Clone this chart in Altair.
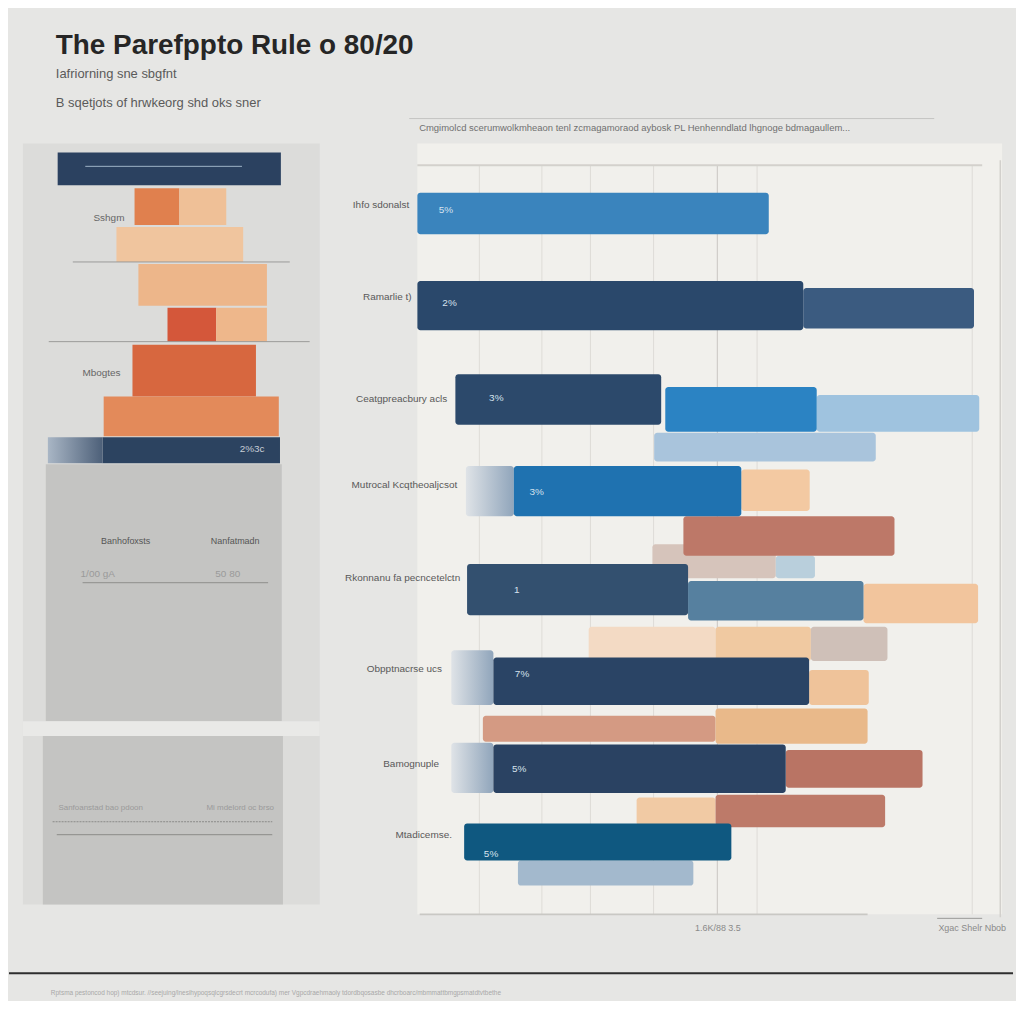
import altair as alt
import pandas as pd

# ---------------- text ----------------
TITLE = "The Parefppto Rule o 80/20"
SUBTITLE = ["Iafriorning sne sbgfnt", "B sqetjots of hrwkeorg shd oks sner"]
HEADER = "Cmgimolcd scerumwolkmheaon tenl zcmagamoraod aybosk PL Henhenndlatd lhgnoge bdmagaullem..."
FOOTER = ("Rptsma pestoncod hop) mtcdsur. //seejuing/lnesihypoqsqlcgrsdecrt mcrcodufa) mer "
          "Vgpcdraehmaoly tdordbqosasbe dhcrboarc/mbmmattbmgpsmatdtvtbethe")

# ---------------- right panel: categories ----------------
categories = ["Ihfo sdonalst", "Ramarlie t)", "Ceatgpreacbury acls", "Mutrocal Kcqtheoaljcsot",
              "Rkonnanu fa pecncetelctn", "Obpptnacrse ucs", "Bamognuple", "Mtadicemse."]
label_row = [-0.1, 0.93, 2.06, 3.02, 4.06, 5.07, 6.13, 6.92]
label_end = [-0.7, -0.3, 5.8, 7.5, 8.0, 4.9, 4.4, 6.6]
pct_text = ["5%", "2%", "3%", "3%", "1", "7%", "5%", "5%"]
pct_x = [4.9, 5.5, 13.5, 20.4, 17.0, 17.9, 17.4, 12.6]
pct_row = [-0.04, 1.0, 2.05, 3.1, 4.19, 5.12, 6.18, 7.13]

# segments in drawing order (background bars first, main bars last)
seg_start = [40.5, 40.2, 61.3, 45.5, 29.3, 51.0, 67.3, 11.2, 51.0, 37.5, 51.0, 17.2,
             0.0, 66.0, 0.0, 68.3, 42.4, 6.5, 55.4, 16.5, 76.3, 46.3, 8.5, 67.0, 13.0,
             63.0, 13.0, 8.0]
seg_end = [78.4, 61.3, 68.0, 81.6, 51.0, 67.3, 80.4, 51.0, 77.0, 51.0, 80.0, 47.2,
           60.1, 95.2, 66.0, 96.1, 68.3, 41.7, 67.1, 55.4, 95.9, 76.3, 46.3, 77.2, 67.0,
           86.4, 63.0, 53.7]
seg_top = [2.44, 3.68, 3.81, 3.37, 4.60, 4.60, 4.60, 5.59, 5.51, 6.50, 6.47, 7.20,
           -0.23, 0.83, 0.75, 2.02, 1.93, 1.79, 2.85, 2.81, 4.12, 4.09, 3.90, 5.08, 4.94,
           5.97, 5.91, 6.79]
seg_bottom = [2.76, 4.06, 4.06, 3.81, 4.98, 4.98, 4.98, 5.88, 5.90, 6.81, 6.83, 7.48,
              0.23, 1.28, 1.30, 2.43, 2.43, 2.35, 3.31, 3.37, 4.56, 4.53, 4.47, 5.47, 5.47,
              6.39, 6.45, 7.20]
seg_color = ["#a9c4dc", "#d6c4bb", "#b9cfdc", "#bd7868", "#f3dac4", "#f0c9a1", "#cfc0b8",
             "#d49a83", "#e9b98a", "#f1caa4", "#bd7a69", "#a3b9cd",
             "#3a84bd", "#3b5b80", "#2a486b", "#9fc3df", "#2b83c3", "#2c496b",
             "#f3c9a2", "#1f72b0", "#f2c59d", "#56809f", "#33506f", "#efc39a", "#2a4465",
             "#b97464", "#2a4262", "#0f5880"]

# fading caps on the left of some bars
fade_start = [8.3, 5.8, 5.8]
fade_end = [16.5, 13.0, 13.0]
fade_top = [2.81, 4.86, 5.89]
fade_bottom = [3.37, 5.47, 6.45]

grid_x = [10.6, 21.3, 29.6, 40.4, 58.1, 94.9]
mid_grid_x = [51.3]
axis_text = ["1.6K/88 3.5", "Xgac Shelr Nbob"]
axis_x = [51.4, 94.9]

# ---------------- left panel ----------------
l_x0 = [7.7, 0.0, 6.7, 11.7, 37.6, 52.7, 31.5, 38.9, 48.7, 65.1, 36.9, 27.2, 26.8]
l_x1 = [87.2, 100.0, 87.6, 86.9, 52.7, 68.5, 74.2, 82.2, 65.1, 82.2, 78.5, 86.2, 86.6]
l_y0 = [322, 580, 595, 9, 45, 45, 84, 121, 165, 165, 202, 254, 295]
l_y1 = [580, 595, 764, 42, 82, 82, 119, 163, 199, 199, 254, 294, 321]
l_color = ["#c4c4c2", "#e9e9e7", "#c4c4c2", "#2b4160", "#e0804e", "#efc097", "#f0c59e",
           "#edb68a", "#d4573a", "#eeb78b", "#d7673f", "#e38a5a", "#2c4360"]

lr_x0 = [16.8, 8.7, 20.1, 11.4, 21.0]
lr_x1 = [89.9, 96.6, 82.6, 84.0, 73.8]
lr_y = [119, 199, 441, 694, 23]
lr_color = ["#9a9a98", "#9a9a98", "#8e8e8c", "#8a8a88", "#9fb3c8"]
dot_x0, dot_x1, dot_y = [10.0], [84.0], [681]

lt_text = ["Sshgm", "Mbogtes", "2%3c", "Banhofoxsts", "Nanfatmadn", "1/00 gA", "50 80",
           "Sanfoanstad bao pdoon", "Mi mdelord oc brso"]
lt_x = [34.2, 32.9, 77.2, 34.6, 71.5, 25.2, 69.0, 26.2, 73.2]
lt_y = [75, 230, 307, 399, 399, 432, 432, 667, 667]
lt_align = ["right", "right", "center", "center", "center", "center", "center", "center", "center"]
lt_color = ["#666666", "#666666", "#c8ced6", "#555555", "#555555", "#9a9a9a", "#9a9a9a",
            "#9a9a9a", "#9a9a9a"]
lt_size = [10, 10, 10, 9, 9, 10, 10, 8, 8]

FONT = "Liberation Sans"

# ================= right chart =================
RW, RH = 587, 774
xs = alt.Scale(domain=[0, 100], nice=False, zero=False)
ys = alt.Scale(domain=[-0.78, 7.8], reverse=True, nice=False, zero=False)

segs = pd.DataFrame({"start": seg_start, "end": seg_end, "top": seg_top,
                     "bottom": seg_bottom, "color": seg_color, "order": range(len(seg_start))})
fades = pd.DataFrame({"start": fade_start, "end": fade_end, "top": fade_top, "bottom": fade_bottom})
labels = pd.DataFrame({"cat": categories, "row": label_row, "x": label_end})
pcts = pd.DataFrame({"t": pct_text, "x": pct_x, "row": pct_row})
grid = pd.DataFrame({"x": grid_x})
mgrid = pd.DataFrame({"x": mid_grid_x})
axl = pd.DataFrame({"t": axis_text, "x": axis_x})

X = lambda f: alt.X(f, type="quantitative", scale=xs, axis=None)
Y = lambda f: alt.Y(f, type="quantitative", scale=ys, axis=None)

grid_l = alt.Chart(grid).mark_rule(color="#dedcd7", strokeWidth=1).encode(
    x=X("x"), y=alt.value(22), y2=alt.value(RH))
mgrid_l = alt.Chart(mgrid).mark_rule(color="#c9c7c2", strokeWidth=1).encode(
    x=X("x"), y=alt.value(22), y2=alt.value(RH))
top_line = alt.Chart(pd.DataFrame({"a": [0.0], "b": [96.6]})).mark_rule(
    color="#d3d1cc", strokeWidth=2).encode(x=X("a"), x2="b", y=alt.value(22))
bottom_line = alt.Chart(pd.DataFrame({"a": [0.4], "b": [77.0]})).mark_rule(
    color="#c9c8c4", strokeWidth=2).encode(x=X("a"), x2="b", y=alt.value(RH))
right_border = alt.Chart(pd.DataFrame({"a": [99.7]})).mark_rule(
    color="#d2d0cc", strokeWidth=1.5).encode(x=X("a"), y=alt.value(17), y2=alt.value(RH + 3))
small_line = alt.Chart(pd.DataFrame({"a": [88.9], "b": [96.6]})).mark_rule(
    color="#9a9a98", strokeWidth=1).encode(x=X("a"), x2="b", y=alt.value(RH + 4))
header_line = alt.Chart(pd.DataFrame({"a": [-1.4], "b": [88.4]})).mark_rule(
    color="#c6c6c4", strokeWidth=1).encode(x=X("a"), x2="b", y=alt.value(-25))
header_text = alt.Chart(pd.DataFrame({"t": [HEADER], "x": [0.3]})).mark_text(
    align="left", baseline="middle", font=FONT, fontSize=9.5, color="#707070").encode(
    x=X("x"), y=alt.value(-15), text="t:N")

bars = alt.Chart(segs).mark_bar(cornerRadius=3).encode(
    x=X("start"), x2="end", y=Y("top"), y2="bottom",
    color=alt.Color("color:N", scale=None), order=alt.Order("order:Q"))

fade_bars = alt.Chart(fades).mark_bar(
    cornerRadius=3,
    fill=alt.Gradient(gradient="linear", x1=0, x2=1, y1=0, y2=0,
                      stops=[alt.GradientStop(color="#dfe3e7", offset=0),
                             alt.GradientStop(color="#90a5bb", offset=1)])).encode(
    x=X("start"), x2="end", y=Y("top"), y2="bottom")

cat_text = alt.Chart(labels).mark_text(
    align="right", baseline="middle", dx=-4, font=FONT, fontSize=10, color="#595959").encode(
    x=X("x"), y=Y("row"), text="cat:N")
pct_marks = alt.Chart(pcts).mark_text(
    align="center", baseline="middle", font=FONT, fontSize=10, color="#d7e2ee").encode(
    x=X("x"), y=Y("row"), text="t:N")
axis_marks = alt.Chart(axl).mark_text(
    align="center", baseline="middle", font=FONT, fontSize=9, color="#8a8a8a").encode(
    x=X("x"), y=alt.value(RH + 14), text="t:N")

right = alt.layer(grid_l, mgrid_l, top_line, bottom_line, right_border, small_line,
                  header_line, header_text, fade_bars, bars, cat_text, pct_marks,
                  axis_marks).properties(
    width=RW, height=RH,
    view=alt.ViewBackground(fill="#f1f0ec", strokeWidth=0))

# ================= left chart =================
LW, LH = 298, 764
lxs = alt.Scale(domain=[0, 100], nice=False, zero=False)
lys = alt.Scale(domain=[0, LH], reverse=True, nice=False, zero=False)
LX = lambda f: alt.X(f, type="quantitative", scale=lxs, axis=None)
LY = lambda f: alt.Y(f, type="quantitative", scale=lys, axis=None)

lsegs = pd.DataFrame({"x0": l_x0, "x1": l_x1, "y0": l_y0, "y1": l_y1, "color": l_color,
                      "order": range(len(l_x0))})
lrules = pd.DataFrame({"x0": lr_x0, "x1": lr_x1, "y": lr_y, "color": lr_color})
ldots = pd.DataFrame({"x0": dot_x0, "x1": dot_x1, "y": dot_y})
ltexts = pd.DataFrame({"t": lt_text, "x": lt_x, "y": lt_y, "align": lt_align,
                       "color": lt_color, "size": lt_size})

lbars = alt.Chart(lsegs).mark_bar(cornerRadius=0).encode(
    x=LX("x0"), x2="x1", y=LY("y0"), y2="y1",
    color=alt.Color("color:N", scale=None), order=alt.Order("order:Q"))
lfade = alt.Chart(pd.DataFrame({"x0": [8.4], "x1": [26.8], "y0": [295], "y1": [321]})).mark_bar(
    fill=alt.Gradient(gradient="linear", x1=0, x2=1, y1=0, y2=0,
                      stops=[alt.GradientStop(color="#a9b6c5", offset=0),
                             alt.GradientStop(color="#4d6079", offset=1)])).encode(
    x=LX("x0"), x2="x1", y=LY("y0"), y2="y1")
lrule = alt.Chart(lrules).mark_rule(strokeWidth=1).encode(
    x=LX("x0"), x2="x1", y=LY("y"), color=alt.Color("color:N", scale=None))
ldot = alt.Chart(ldots).mark_rule(strokeWidth=1, strokeDash=[2, 1], color="#8a8a88").encode(
    x=LX("x0"), x2="x1", y=LY("y"))

ltext_layers = []
for al in ["left", "right", "center"]:
    sub = ltexts[ltexts["align"] == al]
    if len(sub):
        ltext_layers.append(alt.Chart(sub).mark_text(
            align=al, baseline="middle", font=FONT).encode(
            x=LX("x"), y=LY("y"), text="t:N",
            color=alt.Color("color:N", scale=None),
            size=alt.Size("size:Q", scale=None)))

footer_rule = alt.Chart(pd.DataFrame({"a": [0]})).mark_rule(
    color="#2e2e2e", strokeWidth=2).encode(
    x=alt.value(-14), x2=alt.value(994), y=alt.value(833))
footer_text = alt.Chart(pd.DataFrame({"t": [FOOTER]})).mark_text(
    align="left", baseline="middle", font=FONT, fontSize=6.5, color="#a8a8a8").encode(
    x=alt.value(28), y=alt.value(853), text="t:N")

left = alt.layer(lbars, lfade, lrule, ldot, *ltext_layers, footer_rule, footer_text).properties(
    width=LW, height=LH,
    view=alt.ViewBackground(fill="#dcdcda", strokeWidth=0))

chart = alt.hconcat(left, right, spacing=98, bounds="flush").properties(
    title=alt.TitleParams(
        text=TITLE, subtitle=SUBTITLE, anchor="start", dx=48,
        font=FONT, fontSize=28, fontWeight="bold", color="#262626",
        subtitleFont=FONT, subtitleFontSize=13, subtitleColor="#5a5a5a",
        subtitleLineHeight=29, subtitlePadding=8, offset=8),
    padding={"left": 0, "top": 22, "right": 2, "bottom": 2},
    background="#e6e6e4",
).configure_view(strokeWidth=0)

chart.save("out.html", embed_options={"renderer": "svg", "actions": False})
